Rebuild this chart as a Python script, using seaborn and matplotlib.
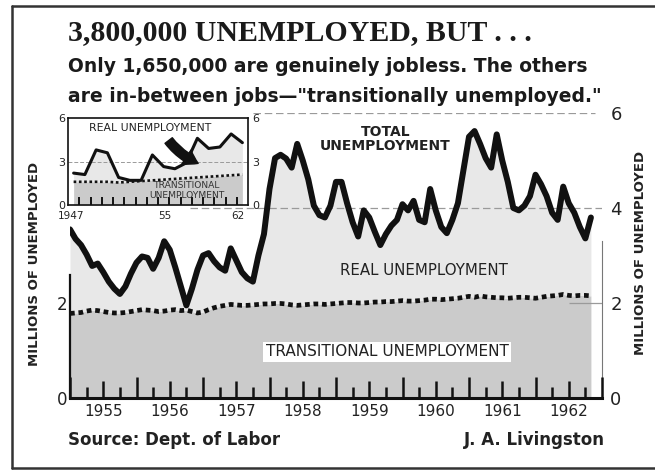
import numpy as np
import pandas as pd
import matplotlib
matplotlib.use("Agg")
import matplotlib.pyplot as plt
import seaborn as sns
from matplotlib.lines import Line2D

# ---------------- data (millions, monthly from Jan 1955) ----------------
start_year = 1955
total_unemp = [
    3.55, 3.35, 3.22, 3.02, 2.78, 2.83, 2.65, 2.45, 2.30, 2.19, 2.35, 2.62,   # 1955
    2.85, 2.98, 2.95, 2.72, 2.95, 3.30, 3.12, 2.75, 2.35, 1.95, 2.30, 2.70,   # 1956
    3.00, 3.05, 2.88, 2.75, 2.68, 3.15, 2.90, 2.65, 2.52, 2.45, 3.00, 3.45,   # 1957
    4.40, 5.05, 5.12, 5.04, 4.85, 5.35, 5.00, 4.60, 4.05, 3.85, 3.80, 4.05,   # 1958
    4.55, 4.55, 4.10, 3.70, 3.40, 3.95, 3.80, 3.50, 3.22, 3.45, 3.63, 3.75,   # 1959
    4.08, 3.95, 4.15, 3.75, 3.70, 4.40, 3.95, 3.60, 3.47, 3.75, 4.10, 4.80,   # 1960
    5.50, 5.62, 5.35, 5.05, 4.85, 5.55, 5.00, 4.55, 4.00, 3.95, 4.05, 4.25,   # 1961
    4.70, 4.50, 4.25, 3.90, 3.75, 4.45, 4.10, 3.90, 3.60, 3.36, 3.80,         # 1962
]
transitional = [
    1.78, 1.79, 1.80, 1.83, 1.85, 1.84, 1.82, 1.80, 1.79, 1.79, 1.80, 1.82,
    1.84, 1.86, 1.85, 1.84, 1.82, 1.83, 1.85, 1.86, 1.84, 1.85, 1.82, 1.79,
    1.81, 1.86, 1.90, 1.93, 1.95, 1.97, 1.96, 1.95, 1.95, 1.96, 1.97, 1.98,
    1.98, 1.99, 1.99, 1.98, 1.96, 1.95, 1.96, 1.97, 1.98, 1.98, 1.97, 1.98,
    1.99, 2.00, 2.01, 2.01, 2.00, 2.00, 2.01, 2.02, 2.02, 2.03, 2.03, 2.04,
    2.05, 2.04, 2.04, 2.05, 2.06, 2.08, 2.08, 2.07, 2.08, 2.09, 2.10, 2.12,
    2.14, 2.12, 2.15, 2.13, 2.12, 2.11, 2.11, 2.10, 2.11, 2.12, 2.12, 2.11,
    2.10, 2.12, 2.14, 2.15, 2.16, 2.18, 2.16, 2.15, 2.16, 2.16, 2.15,
]
year_labels = ["1955", "1956", "1957", "1958", "1959", "1960", "1961", "1962"]
right_ticks = [0, 2, 4, 6]
left_ticks = [0, 2]

# inset: annual 1947-1962
inset_years = list(range(1947, 1963))
inset_total = [2.2, 2.1, 3.8, 3.6, 1.9, 1.7, 1.7, 3.45, 2.65, 2.5, 2.9, 4.6, 3.9, 4.0, 4.9, 4.3]
inset_trans = [1.6, 1.6, 1.6, 1.6, 1.55, 1.6, 1.65, 1.7, 1.75, 1.8, 1.85, 1.9, 1.95, 2.0, 2.05, 2.1]
inset_ticks = [0, 3, 6]
inset_xlabels = ["1947", "55", "62"]

# ---------------- frames ----------------
t = start_year + np.arange(len(total_unemp)) / 12.0
df = pd.DataFrame({"t": t, "total": total_unemp, "trans": transitional})
dfi = pd.DataFrame({"yr": np.array(inset_years) + 0.5, "total": inset_total, "trans": inset_trans})

sns.set_theme(style="white")
plt.rcParams["font.family"] = ["DejaVu Sans"]
plt.rcParams["axes.axisbelow"] = False

W, H = 655, 476
fig = plt.figure(figsize=(W / 100, H / 100), dpi=100)
fig.patch.set_facecolor("white")

def fx(px):
    return px / W

def fy(py):
    return 1 - py / H

LIGHT = "#e8e8e8"
DARK = "#cbcbcb"
INK = "#111111"
TXT = "#222222"

# ---------------- main axes ----------------
ax = fig.add_axes([fx(70), fy(398), (602 - 70) / W, (398 - 113) / H])
ax.set_facecolor("none")
ax.set_axisbelow(False)
ax.fill_between(df["t"], 0, df["trans"], color=DARK, lw=0, zorder=0.1)
ax.fill_between(df["t"], df["trans"], df["total"], color=LIGHT, lw=0, zorder=0.1)
ax.hlines([4], 1956.8, 1963, colors="#9a9a9a", lw=0.9, linestyles=(0, (6, 3)), zorder=0.2)
ax.hlines([6], 1957.75, 1962.9, colors="#9a9a9a", lw=0.9, linestyles=(0, (6, 3)), zorder=0.2)
ax.hlines([2], 1962.5, 1963, colors="#9a9a9a", lw=0.9, zorder=0.2)

sns.lineplot(data=df, x="t", y="trans", ax=ax, color=INK, lw=3.4,
             linestyle=(0, (1, 0.8)), zorder=4)
sns.lineplot(data=df, x="t", y="total", ax=ax, color=INK, lw=4.3, zorder=5)

ax.set_xlim(1955, 1963)
ax.set_ylim(0, 6)
ax.set_xlabel("")
ax.set_ylabel("")

ax.spines["top"].set_visible(False)
ax.spines["bottom"].set_linewidth(2.2)
ax.spines["bottom"].set_color(INK)
ax.spines["left"].set_linewidth(1.6)
ax.spines["left"].set_color(INK)
ax.spines["left"].set_bounds(0, 2.6)
ax.spines["right"].set_linewidth(0.8)
ax.spines["right"].set_color("#777777")
ax.spines["right"].set_bounds(0, 3.3)

ax.set_xticks(np.arange(1955, 1964))
ax.set_xticklabels([])
ax.set_xticks(np.concatenate([np.arange(1955, 1963) + 0.25, np.arange(1955, 1963) + 0.75]), minor=True)
ax.tick_params(axis="x", which="major", direction="in", length=15, width=1.8, color=INK, bottom=True)
ax.tick_params(axis="x", which="minor", direction="in", length=8, width=1.8, color=INK, bottom=True)

sec = ax.secondary_xaxis("bottom")
sec.set_zorder(3)
sec.set_xticks(np.arange(1955, 1963) + 0.5, labels=year_labels)
sec.tick_params(direction="in", length=12, width=1.8, color=INK, pad=4, labelsize=11,
                labelcolor=TXT, bottom=True)
sec.spines["bottom"].set_visible(False)

ax.set_yticks(left_ticks)
ax.set_yticklabels([str(v) for v in left_ticks])
ax.tick_params(axis="y", length=0, pad=2, labelsize=12, labelcolor=TXT)

ax2 = ax.twinx()
ax2.set_ylim(0, 6)
ax2.set_yticks(right_ticks)
ax2.set_yticklabels([str(v) for v in right_ticks])
ax2.tick_params(axis="y", length=0, pad=6, labelsize=13, labelcolor=TXT)
for s in ax2.spines.values():
    s.set_visible(False)

ax.set_ylabel("MILLIONS OF UNEMPLOYED", fontsize=9.5, fontweight="bold", color=TXT)
ax.yaxis.set_label_coords(-0.054, 0.47)
ax2.set_ylabel("MILLIONS OF UNEMPLOYED", fontsize=9.5, fontweight="bold", color=TXT, rotation=90)
ax2.yaxis.set_label_coords(1.060, 0.51)

ax.text(1959.74, 5.45, "TOTAL\nUNEMPLOYMENT", ha="center", va="center", fontsize=10,
        fontweight="bold", color=TXT, linespacing=1.05, zorder=6)
ax.text(1960.32, 2.69, "REAL UNEMPLOYMENT", ha="center", va="center", fontsize=10.8,
        color=TXT, zorder=6)
ax.text(1959.77, 0.97, "TRANSITIONAL UNEMPLOYMENT", ha="center", va="center", fontsize=11,
        color=TXT, zorder=6,
        bbox=dict(boxstyle="square,pad=0.15", fc="white", ec="none"))

# ---------------- inset ----------------
axi = fig.add_axes([fx(68), fy(205), (248 - 68) / W, (205 - 118) / H])
axi.set_facecolor("white")
axi.set_axisbelow(False)
axi.fill_between(dfi["yr"], 0, dfi["trans"], color=DARK, lw=0, zorder=0.1)
axi.fill_between(dfi["yr"], dfi["trans"], dfi["total"], color=LIGHT, lw=0, zorder=0.1)
axi.axhline(3, color="#9a9a9a", lw=0.7, ls=(0, (4, 2)), zorder=0.2)
sns.lineplot(data=dfi, x="yr", y="trans", ax=axi, color=INK, lw=1.9, linestyle=(0, (1, 1)))
sns.lineplot(data=dfi, x="yr", y="total", ax=axi, color=INK, lw=2.2)
axi.set_xlim(1947, 1963)
axi.set_ylim(0, 6)
axi.set_xlabel("")
axi.set_ylabel("")
for s in axi.spines.values():
    s.set_linewidth(1.2)
    s.set_color(INK)
axi.set_xticks(np.arange(1948, 1963))
axi.set_xticklabels([])
axi.tick_params(axis="x", direction="in", length=6, width=1.4, color=INK, bottom=True)
axi.set_yticks(inset_ticks)
axi.set_yticklabels([str(v) for v in inset_ticks])
axi.tick_params(axis="y", length=0, pad=2, labelsize=8, labelcolor=TXT)
axi2 = axi.twinx()
axi2.set_ylim(0, 6)
axi2.set_yticks(inset_ticks)
axi2.set_yticklabels([str(v) for v in inset_ticks])
axi2.tick_params(axis="y", length=0, pad=3, labelsize=8, labelcolor=TXT)
for s in axi2.spines.values():
    s.set_visible(False)
seci = axi.secondary_xaxis("bottom")
seci.set_xticks([1947.3, 1955.6, 1962.1], labels=inset_xlabels)
seci.tick_params(length=0, pad=4, labelsize=7.5, labelcolor=TXT)
seci.spines["bottom"].set_visible(False)

axi.text(1954.3, 5.3, "REAL UNEMPLOYMENT", ha="center", va="center", fontsize=7.8,
         color=TXT)
axi.text(1957.6, 1.0, "TRANSITIONAL\nUNEMPLOYMENT", ha="center", va="center", fontsize=6.6,
         color="#333333", linespacing=1.0)
axi.annotate("", xy=(1958.8, 2.8), xytext=(1955.8, 4.6),
             arrowprops=dict(arrowstyle="simple,head_width=1.0,head_length=0.8,tail_width=0.55",
                             connectionstyle="arc3,rad=0.15", color=INK))

# ---------------- titles & credits ----------------
fig.text(fx(68), fy(33), "3,800,000 UNEMPLOYED, BUT . . .", ha="left", va="center",
         fontsize=21.5, family="Liberation Serif", fontweight="bold", color="#1a1a1a")
fig.text(fx(68), fy(66), "Only 1,650,000 are genuinely jobless. The others", ha="left",
         va="center", fontsize=13.5, fontweight="bold", color="#1a1a1a")
fig.text(fx(68), fy(96), "are in-between jobs\u2014\"transitionally unemployed.\"", ha="left",
         va="center", fontsize=13.5, fontweight="bold", color="#1a1a1a")
fig.text(fx(68), fy(440), "Source: Dept. of Labor", ha="left", va="center", fontsize=12,
         fontweight="bold", color=TXT)
fig.text(fx(605), fy(440), "J. A. Livingston", ha="right", va="center", fontsize=12,
         fontweight="bold", color=TXT)

# border of the clipping
fig.add_artist(Line2D([fx(12), 1.0], [fy(6), fy(6)], color="#333333", lw=1.8))
fig.add_artist(Line2D([fx(12), fx(12)], [fy(6), fy(468)], color="#333333", lw=1.8))
fig.add_artist(Line2D([fx(12), 1.0], [fy(468), fy(468)], color="#333333", lw=1.8))

fig.savefig("out.png", dpi=100, facecolor="white")
